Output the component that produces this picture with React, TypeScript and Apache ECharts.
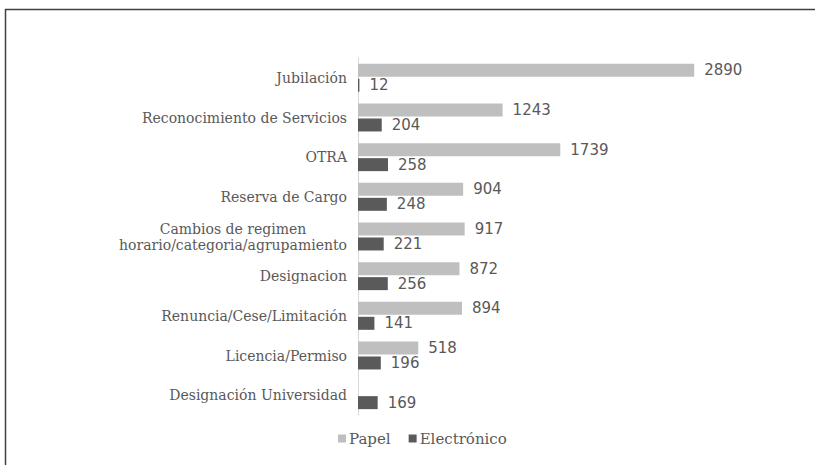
import React, { useEffect, useRef } from "react";
import * as echarts from "echarts";

const categories = [
  "Jubilación",
  "Reconocimiento de Servicios",
  "OTRA",
  "Reserva de Cargo",
  "Cambios de regimen\nhorario/categoria/agrupamiento",
  "Designacion",
  "Renuncia/Cese/Limitación",
  "Licencia/Permiso",
  "Designación Universidad",
];
const papel: (number | null)[] = [2890, 1243, 1739, 904, 917, 872, 894, 518, null];
const electronico: number[] = [12, 204, 258, 248, 221, 256, 141, 196, 169];

const TEXT = "#595959";
const SERIF = "'DejaVu Serif', serif";
const SANS = "'DejaVu Sans', sans-serif";

export default function App() {
  const ref = useRef<HTMLDivElement>(null);
  useEffect(() => {
    if (!ref.current) return;
    const chart = echarts.init(ref.current, undefined, { renderer: "svg" });
    const labelStyle = {
      show: true,
      position: "right" as const,
      distance: 10,
      color: TEXT,
      fontFamily: SANS,
      fontSize: 15,
    };
    chart.setOption({
      animation: false,
      backgroundColor: "#ffffff",
      grid: { left: 358, top: 58, bottom: 50, width: 349, containLabel: false },
      xAxis: {
        type: "value",
        min: 0,
        max: 3000,
        show: false,
      },
      yAxis: {
        type: "category",
        data: categories,
        inverse: true,
        axisLine: { show: true, lineStyle: { color: "#d9d9d9", width: 1 } },
        axisTick: { show: false },
        splitLine: { show: false },
        axisLabel: {
          margin: 11,
          color: TEXT,
          fontFamily: SERIF,
          fontSize: 14,
          lineHeight: 16,
          formatter: (v: string) =>
            v
              .split("\n")
              .map((l) => "{c|" + l + "}")
              .join("\n"),
          rich: {
            c: {
              color: TEXT,
              fontFamily: SERIF,
              fontSize: 14,
              lineHeight: 16,
              align: "center",
            },
          },
        },
      },
      legend: {
        bottom: 14,
        left: 333,
        icon: "rect",
        itemWidth: 8,
        itemHeight: 8,
        itemGap: 18,
        textStyle: { color: TEXT, fontFamily: SERIF, fontSize: 15, padding: [0, 0, 0, -2] },
        data: ["Papel", "Electrónico"],
      },
      series: [
        {
          name: "Papel",
          type: "bar",
          data: papel,
          barWidth: 13,
          barGap: "15%",
          itemStyle: { color: "#bfbfbf" },
          label: labelStyle,
        },
        {
          name: "Electrónico",
          type: "bar",
          data: electronico,
          barWidth: 13,
          barGap: "15%",
          itemStyle: { color: "#5a5a5a" },
          label: labelStyle,
        },
      ],
      graphic: [
        {
          type: "line",
          shape: { x1: 5, y1: 9.5, x2: 815, y2: 9.5 },
          style: { stroke: "#404040", lineWidth: 1.5 },
        },
        {
          type: "line",
          shape: { x1: 5.5, y1: 9, x2: 5.5, y2: 465 },
          style: { stroke: "#404040", lineWidth: 1.5 },
        },
      ],
    });
    return () => chart.dispose();
  }, []);
  return (
    <div
      ref={ref}
      style={{ position: "fixed", left: 0, top: 0, width: 815, height: 465, background: "#fff" }}
    />
  );
}
